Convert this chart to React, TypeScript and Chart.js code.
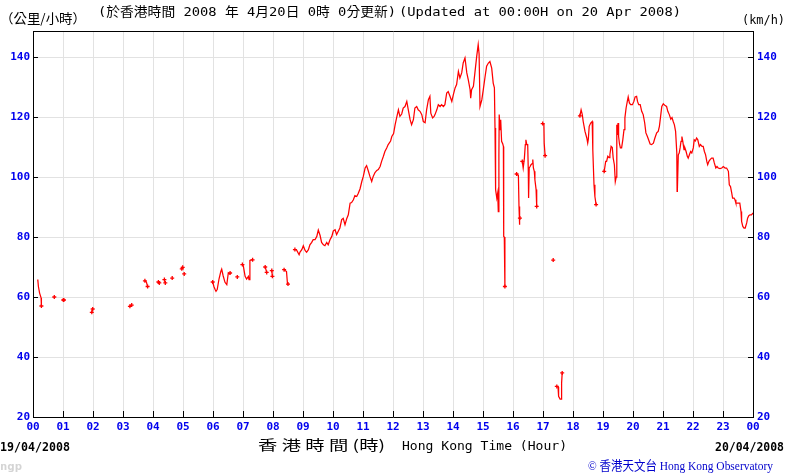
import React, { useEffect, useRef } from 'react';
import { Chart, registerables } from 'chart.js';

Chart.register(...registerables);

// Hour of day (0-24) for each reading; null speeds mark gaps in the record.
const hours: number[] = [
  0.14, 0.16, 0.18, 0.22, 0.27, 0.28, 0.5,
  0.71, 0.85,
  1.01, 1.03, 1.5,
  1.96, 1.99, 2.6,
  3.23, 3.29, 3.5,
  3.73, 3.78, 3.82, 4.0,
  4.18, 4.21, 4.3,
  4.38, 4.41, 4.5,
  4.64, 4.8,
  4.96, 4.99, 5.02,
  5.04, 5.5,
  5.99, 6.03, 6.07, 6.1, 6.14, 6.2, 6.26, 6.29, 6.34, 6.4, 6.46, 6.51, 6.55, 6.57, 6.7,
  6.81, 6.9,
  6.98, 7.01, 7.07, 7.12, 7.18, 7.2, 7.23, 7.28, 7.32, 7.5,
  7.74, 7.79, 7.9,
  7.96, 7.98, 8.2,
  8.37, 8.45, 8.48, 8.5, 8.6,
  8.73, 8.78, 8.87, 8.9, 8.96, 9.01, 9.07, 9.12, 9.18, 9.23, 9.29, 9.34, 9.4, 9.46, 9.51, 9.57,
  9.62, 9.68, 9.73, 9.79, 9.84, 9.9, 9.96, 10.01, 10.07, 10.12, 10.18, 10.23, 10.29, 10.34, 10.4,
  10.46, 10.51, 10.57, 10.62, 10.68, 10.73, 10.79, 10.84, 10.9, 10.96, 11.01, 11.07, 11.12, 11.18,
  11.23, 11.29, 11.34, 11.4, 11.46, 11.51, 11.57, 11.62, 11.68, 11.73, 11.79, 11.84, 11.92, 11.96,
  12.02, 12.07, 12.12, 12.18, 12.23, 12.29, 12.34, 12.4, 12.46, 12.51, 12.57, 12.62, 12.68, 12.73,
  12.79, 12.84, 12.9, 12.96, 13.01, 13.07, 13.12, 13.18, 13.23, 13.26, 13.32, 13.37, 13.4, 13.46,
  13.51, 13.57, 13.62, 13.68, 13.73, 13.79, 13.84, 13.9, 13.96, 14.01, 14.07, 14.12, 14.18, 14.23,
  14.29, 14.34, 14.4, 14.46, 14.51, 14.57, 14.59, 14.62, 14.68, 14.73, 14.79, 14.84, 14.87, 14.9,
  14.96, 15.01, 15.07, 15.12, 15.18, 15.23, 15.29, 15.34, 15.38, 15.4, 15.42, 15.46, 15.49, 15.51,
  15.53, 15.54, 15.57, 15.59, 15.62, 15.66, 15.68, 15.69, 15.71, 15.73, 15.9,
  16.12, 16.18, 16.2, 16.21, 16.23, 16.27,
  16.31, 16.34, 16.38, 16.41, 16.43, 16.46, 16.49, 16.51, 16.52, 16.54, 16.57, 16.6, 16.64, 16.66,
  16.68, 16.71, 16.73, 16.77, 16.79, 16.9,
  16.99, 17.03, 17.04, 17.07, 17.2,
  17.34, 17.4,
  17.46, 17.5, 17.52, 17.57, 17.6, 17.62, 17.64, 17.9,
  18.23, 18.27, 18.31, 18.34, 18.4, 18.46, 18.49, 18.51, 18.54, 18.59, 18.64, 18.66, 18.7, 18.73,
  18.77, 18.9,
  19.04, 19.09, 19.12, 19.16, 19.2, 19.23, 19.27, 19.31, 19.34, 19.38, 19.41, 19.44, 19.46, 19.48,
  19.5, 19.52, 19.55, 19.58, 19.62, 19.66, 19.7, 19.73, 19.77, 19.81, 19.84, 19.88, 19.92, 19.98,
  20.03, 20.07, 20.12, 20.15, 20.19, 20.24, 20.29, 20.34, 20.39, 20.43, 20.48, 20.52, 20.57, 20.62,
  20.68, 20.73, 20.79, 20.84, 20.88, 20.92, 20.96, 21.01, 21.07, 21.12, 21.16, 21.21, 21.26, 21.3,
  21.34, 21.38, 21.42, 21.46, 21.47, 21.48, 21.51, 21.54, 21.57, 21.6, 21.63, 21.66, 21.7, 21.73,
  21.77, 21.81, 21.84, 21.88, 21.92, 21.96, 22.01, 22.04, 22.08, 22.12, 22.16, 22.21, 22.25, 22.3,
  22.34, 22.38, 22.42, 22.46, 22.49, 22.53, 22.57, 22.62, 22.67, 22.71, 22.76, 22.8, 22.84, 22.9,
  22.96, 23.01, 23.07, 23.12, 23.18, 23.21, 23.25, 23.29, 23.32, 23.37, 23.4, 23.43, 23.51, 23.56,
  23.6, 23.62, 23.66, 23.7, 23.74, 23.79, 23.82, 23.86, 23.9, 23.95, 24,
];

// Wind speed in km/h, one per entry of `hours`.
const speeds: (number | null)[] = [
  65.5, 65.8, 63.5, 61.3, 59.7, 57, null,
  60, null,
  59, 59, null,
  54.9, 56, null,
  56.9, 57.3, null,
  65.4, 65, 63.5, null,
  65, 64.7, null,
  65.8, 64.7, null,
  66.3, null,
  69.4, 69.9, null,
  67.7, null,
  65, 63.5, 62.5, 61.9, 62.5, 66, 68.5, 69.3, 67, 64.9, 64.1, 68, 67.7, 68, null,
  66.7, null,
  70.8, 70.4, 66.9, 66, 66.9, 65.8, 72.2, 72.4, 72.4, null,
  70, 68.2, null,
  68.8, 66.9, null,
  69.1, 68.5, 64.7, 64.3, null,
  75.8, 75.8, 74.1, 75, 75.8, 77.1, 75.5, 74.9, 75.8, 77.4, 78.2, 79.1, 79.1, 80.2, 82.3, 80.5,
  78.2, 77.4, 77.1, 78.2, 77.4, 79.1, 80.2, 82, 82.4, 80.8, 82, 83, 85.8, 86.2, 84.1,
  86.2, 87.4, 91.3, 91.5, 92.4, 93.8, 93.5, 94.5, 96, 98.5, 100.2, 103, 103.8, 101.9,
  100.2, 98.5, 100.2, 101.5, 102.2, 102.5, 103.5, 105.2, 106.9, 108.5, 109.7, 110.8, 112, 113.5,
  114.5, 117.4, 119.7, 122.4, 120.2, 121, 123, 123.5, 125.2, 122.4, 119.1, 117.4, 119.1, 123,
  123.5, 122.4, 121.9, 120.8, 118.5, 118.1, 122.4, 125.8, 126.9, 121.3, 119.7, 120.2, 120.8, 122.4,
  124.1, 123.5, 124.1, 123.5, 124.1, 128, 128.5, 126.9, 125.2, 127.4, 129.7, 130.8, 135.2, 133,
  134.7, 138, 139.7, 134.7, 132.4, 129.1, 126.3, 129.1, 130.2, 134.7, 140.2, 144.1, 141, 123.5,
  125.7, 129.1, 133.5, 136.9, 138, 138.5, 136.3, 131.3, 129.7, 116.3, 95.8, 93, 94.7, 88.5,
  106.9, 120.8, 115.8, 119.1, 111.9, 111, 110.2, 80.2, 80, 63.5, null,
  101, 100.5, 90.2, 84.1, 86.3, null,
  105.2, 103, 106.3, 110.8, 112.4, 110.8, 110.8, 101.9, 93, 103, 103.5, 104.1, 104.5, 105.8,
  103, 101.9, 99.1, 95.8, 90.2, null,
  117.8, 117.6, 111.3, 107.1, null,
  72.3, null,
  30.2, 30, 26.9, 26, 26, 31.3, 34.7, null,
  120.4, 122.4, 120.8, 118.5, 115.2, 113, 111.3, 112.5, 116.9, 118, 118.5, 109.1, 97.4, 93.5,
  90.8, null,
  101.9, 105.2, 105.2, 106.9, 106.5, 107.5, 110.2, 109.8, 106.3, 104, 98.5, 100, 117.4, 114,
  118, 113.5, 111, 109.7, 109.7, 112.4, 115.8, 119.7, 123, 125.2, 126.7, 124.7, 124.1, 124.1,
  125.2, 126.7, 126.9, 125.2, 124.1, 124.1, 121.9, 120.8, 118, 114.7, 113.5, 112.4, 111, 110.8,
  111.3, 113, 114.7, 115.2, 116.9, 120.2, 123.5, 124.4, 123.8, 123.5, 121.9, 120.8, 119.3, 119.8,
  118.5, 117.4, 115.2, 108, 95.2, 96, 107.4, 108, 109.7, 111.9, 113.5, 111.9, 109.1, 109.7,
  108.5, 106.9, 106.3, 107.4, 108.5, 108, 109.7, 112.4, 112, 113, 112.4, 110.2, 110.8, 110.2,
  110.2, 108.5, 107.4, 105.2, 104.1, 105.2, 105.8, 106.3, 106.3, 104.7, 103, 103.5, 103, 102.8,
  103, 103.5, 103, 103, 101.9, 97.4, 96.8, 94.7, 93, 93, 92.4, 91.3, 91.3, 91.3,
  88.5, 85.2, 83.5, 83, 83, 84.7, 86.3, 87.1, 87.4, 87.4, 88,
];

const xTickHours: number[] = Array.from({ length: 25 }, (_, i) => i);
const yTickValues: number[] = [20, 40, 60, 80, 100, 120, 140];
const Y_MIN = 20;
const Y_MAX = 148.67;

const titleZh = '(於香港時間 2008 年 4月20日 0時 0分更新)';
const titleEn = '(Updated at 00:00H on 20 Apr 2008)';
const unitZh = '（公里/小時）';
const unitEn = '(km/h)';
const dateStart = '19/04/2008';
const dateEnd = '20/04/2008';
const axisZh = '香 港 時 間 (時)';
const axisEn = 'Hong Kong Time (Hour)';
const credit = '© 香港天文台 Hong Kong Observatory';

function fitText(
  ctx: CanvasRenderingContext2D,
  text: string,
  x: number,
  y: number,
  w: number,
  font: string,
  color: string
) {
  ctx.save();
  ctx.font = font;
  ctx.fillStyle = color;
  ctx.textAlign = 'left';
  ctx.textBaseline = 'alphabetic';
  const m = ctx.measureText(text).width || 1;
  ctx.translate(x, y);
  ctx.scale(w / m, 1);
  ctx.fillText(text, 0, 0);
  ctx.restore();
}

const decorPlugin = {
  id: 'decor',
  afterDatasetsDraw(chart: any) {
    const { ctx, chartArea, scales } = chart;
    const { left, right, top, bottom } = chartArea;
    ctx.save();
    ctx.strokeStyle = '#000';
    ctx.lineWidth = 1;
    ctx.beginPath();
    ctx.moveTo(left, top + 0.5);
    ctx.lineTo(right + 1, top + 0.5);
    for (const h of xTickHours) {
      const px = Math.round(scales.x.getPixelForValue(h)) + 0.5;
      ctx.moveTo(px, bottom);
      ctx.lineTo(px, bottom - 6);
    }
    for (const v of yTickValues) {
      const py = Math.round(scales.y.getPixelForValue(v)) + 0.5;
      ctx.moveTo(left, py);
      ctx.lineTo(left + 5, py);
      ctx.moveTo(right - 5, py);
      ctx.lineTo(right, py);
    }
    ctx.stroke();
    ctx.restore();
  },
  afterDraw(chart: any) {
    const ctx = chart.ctx as CanvasRenderingContext2D;
    const mono = "'DejaVu Sans Mono', 'Noto Sans CJK TC', monospace";
    fitText(ctx, unitZh, 0, 23, 86, "13px 'Noto Sans CJK TC'", '#000');
    fitText(ctx, titleZh, 98, 16, 298, `13px ${mono}`, '#000');
    fitText(ctx, titleEn, 399, 16, 282, `13px ${mono}`, '#000');
    fitText(ctx, unitEn, 742, 24, 43, `13px ${mono}`, '#000');
    fitText(ctx, dateStart, 0, 451, 70, `bold 12px ${mono}`, '#000');
    fitText(ctx, dateEnd, 715, 451, 69, `bold 12px ${mono}`, '#000');
    fitText(ctx, axisZh, 258, 450, 127, "14px 'Noto Sans CJK TC'", '#000');
    fitText(ctx, axisEn, 402, 450, 165, `13px ${mono}`, '#000');
    fitText(ctx, 'ngp', 0, 470, 22, `bold 10px ${mono}`, '#d4d4d4');
    fitText(ctx, credit, 588, 470, 185, "13px 'Liberation Serif', 'Noto Sans CJK TC', serif", '#0000cc');
  },
};

function isSegmentEnd(i: number): boolean {
  if (speeds[i] == null) return false;
  const prevNull = i === 0 || speeds[i - 1] == null;
  const nextNull = i === speeds.length - 1 || speeds[i + 1] == null;
  return prevNull || nextNull;
}

export default function App() {
  const canvasRef = useRef<HTMLCanvasElement | null>(null);

  useEffect(() => {
    if (!canvasRef.current) return;
    const tickFont = { family: "'DejaVu Sans Mono', monospace", size: 11, weight: 'bold' as const };
    const tickColor = '#0000ee';
    const chart = new Chart(canvasRef.current, {
      type: 'line',
      data: {
        datasets: [
          {
            data: hours.map((h, i) => ({ x: h, y: speeds[i] })) as any,
            borderColor: '#ff0000',
            backgroundColor: '#ff0000',
            borderWidth: 1.25,
            pointStyle: 'cross',
            pointRadius: (c: any) => (isSegmentEnd(c.dataIndex) && hours[c.dataIndex] < 24 && c.dataIndex > 0 ? 2 : 0),
            pointBorderColor: '#ff0000',
            pointBorderWidth: 1.3,
            pointHoverRadius: 0,
            spanGaps: false,
            tension: 0,
            fill: false,
          },
        ],
      },
      options: {
        animation: false,
        responsive: false,
        devicePixelRatio: 1,
        events: [],
        layout: { padding: { top: 31, left: 0, right: 0, bottom: 0 } },
        plugins: { legend: { display: false }, tooltip: { enabled: false }, title: { display: false } },
        scales: {
          x: {
            type: 'linear',
            min: 0,
            max: 24,
            afterBuildTicks: (s: any) => {
              s.ticks = xTickHours.map((v) => ({ value: v }));
            },
            afterFit: (s: any) => {
              s.height = 58;
            },
            grid: { color: '#e2e2e2', lineWidth: 1, drawTicks: false },
            border: { display: true, color: '#000', width: 1 },
            ticks: {
              autoSkip: false,
              maxRotation: 0,
              padding: 4,
              color: tickColor,
              font: tickFont,
              callback: (v: any) => String(Number(v) % 24).padStart(2, '0'),
            },
          },
          y: {
            type: 'linear',
            position: 'left',
            min: Y_MIN,
            max: Y_MAX,
            afterBuildTicks: (s: any) => {
              s.ticks = yTickValues.map((v) => ({ value: v }));
            },
            afterFit: (s: any) => {
              s.width = 33;
            },
            grid: { color: '#e2e2e2', lineWidth: 1, drawTicks: false },
            border: { display: true, color: '#000', width: 1 },
            ticks: { padding: 3, color: tickColor, font: tickFont },
          },
          y2: {
            type: 'linear',
            position: 'right',
            min: Y_MIN,
            max: Y_MAX,
            afterBuildTicks: (s: any) => {
              s.ticks = yTickValues.map((v) => ({ value: v }));
            },
            afterFit: (s: any) => {
              s.width = 33;
            },
            grid: { display: false, drawTicks: false },
            border: { display: true, color: '#000', width: 1 },
            ticks: { padding: 4, color: tickColor, font: tickFont },
          },
        },
      },
      plugins: [decorPlugin],
    });
    return () => chart.destroy();
  }, []);

  return (
    <div style={{ position: 'fixed', left: 0, top: 0, width: 786, height: 475, background: '#fff' }}>
      <canvas ref={canvasRef} width={786} height={475} />
    </div>
  );
}
